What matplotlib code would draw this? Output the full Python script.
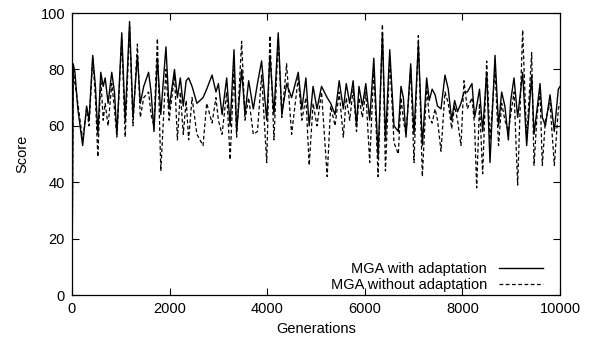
import matplotlib
matplotlib.use("Agg")
import matplotlib.pyplot as plt

gens = [0, 25, 60, 120, 219, 300, 350, 425, 480, 530, 590, 640, 680, 740, 815,
        870, 920, 1020, 1090, 1180, 1250, 1340, 1400, 1470, 1570, 1620, 1680,
        1750, 1820, 1925, 1990, 2100, 2160, 2220, 2280, 2340, 2390, 2460, 2560,
        2685, 2760, 2870, 2950, 3000, 3075, 3170, 3240, 3320, 3374, 3476, 3545,
        3620, 3715, 3800, 3885, 3990, 4056, 4138, 4226, 4300, 4397, 4500, 4636,
        4710, 4793, 4860, 4940, 5020, 5113, 5229, 5300, 5390, 5475, 5560, 5620,
        5690, 5761, 5830, 5880, 5950, 6020, 6100, 6184, 6272, 6361, 6423, 6511,
        6598, 6687, 6741, 6790, 6844, 6940, 7008, 7097, 7179, 7267, 7320, 7380,
        7440, 7490, 7561, 7643, 7710, 7780, 7840, 7900, 7970, 8032, 8100, 8196,
        8250, 8292, 8350, 8415, 8497, 8565, 8668, 8740, 8804, 8870, 8941, 8990,
        9057, 9132, 9234, 9316, 9419, 9467, 9530, 9590, 9637, 9700, 9795, 9883,
        9965, 10000]

with_adapt = [0, 82, 79, 66, 53, 67, 62, 85, 74, 57, 79, 74, 77, 68, 79,
              72, 57, 93, 62, 97, 63, 85, 68, 74, 79, 72, 58,
              84, 64, 88, 66, 80, 70, 77, 67, 76, 77, 74, 68,
              70, 73, 78, 72, 75, 64, 77, 60, 87, 58, 80, 64,
              76, 66, 75, 83, 62, 85, 64, 93, 64, 75, 70, 79,
              66, 77, 60, 74, 66, 74, 70, 68, 64, 76, 66, 75,
              68, 76, 60, 74, 67, 75, 62, 84, 49, 93, 55, 87,
              60, 58, 74, 70, 56, 82, 57, 89, 53, 77, 69, 73,
              71, 67, 66, 78, 73, 62, 69, 65, 68, 72, 72, 75,
              63, 67, 73, 58, 79, 47, 85, 60, 72, 67, 55, 69,
              77, 63, 79, 53, 78, 57, 66, 75, 63, 60, 71, 58,
              73, 74]

without_adapt = [0, 80, 75, 68, 55, 66, 60, 84, 70, 49, 77, 62, 68, 60, 75,
                 66, 56, 91, 56, 95, 60, 89, 63, 70, 72, 64, 60,
                 91, 44, 80, 62, 78, 55, 72, 57, 69, 55, 70, 57,
                 53, 68, 61, 70, 62, 57, 72, 48, 80, 56, 90, 62,
                 70, 57, 58, 78, 47, 92, 55, 91, 63, 82, 57, 77,
                 62, 70, 46, 68, 60, 72, 42, 67, 60, 72, 56, 70,
                 62, 73, 58, 70, 63, 72, 47, 80, 42, 96, 44, 84,
                 54, 50, 70, 62, 57, 80, 47, 92, 42, 74, 63, 61,
                 66, 62, 51, 72, 68, 59, 67, 62, 53, 76, 66, 70,
                 60, 38, 68, 43, 83, 55, 80, 53, 68, 62, 58, 64,
                 72, 39, 94, 55, 86, 46, 64, 72, 46, 62, 68, 46,
                 66, 68]

plt.rcParams["font.family"] = ["Liberation Sans", "DejaVu Sans"]
plt.rcParams["font.size"] = 10.5

fig = plt.figure(figsize=(5.92, 3.44), dpi=100)
ax = fig.add_axes([0.1216, 0.1424, 0.8244, 0.8196])

ax.plot(gens, with_adapt, color="black", lw=1.0, label="MGA with adaptation")
ax.plot(gens, without_adapt, color="black", lw=0.9, ls=(0, (3, 2)),
        label="MGA without adaptation")

ax.set_xlim(0, 10000)
ax.set_ylim(0, 100)
ax.set_xticks(range(0, 10001, 2000))
ax.set_yticks(range(0, 101, 20))
ax.tick_params(direction="in", length=5, width=0.8, top=True, right=True,
               labelsize=10.5, pad=5)
for s in ax.spines.values():
    s.set_linewidth(0.9)
ax.set_xlabel("Generations", fontsize=10.5, labelpad=4)
ax.set_ylabel("Score", fontsize=10.5, labelpad=8)

ax.legend(loc="lower right", bbox_to_anchor=(0.988, -0.03), frameon=False,
          markerfirst=False, handlelength=3.0, handletextpad=0.8,
          labelspacing=0.15, borderpad=0.3, fontsize=10.5)

fig.savefig("out.png", dpi=100)
